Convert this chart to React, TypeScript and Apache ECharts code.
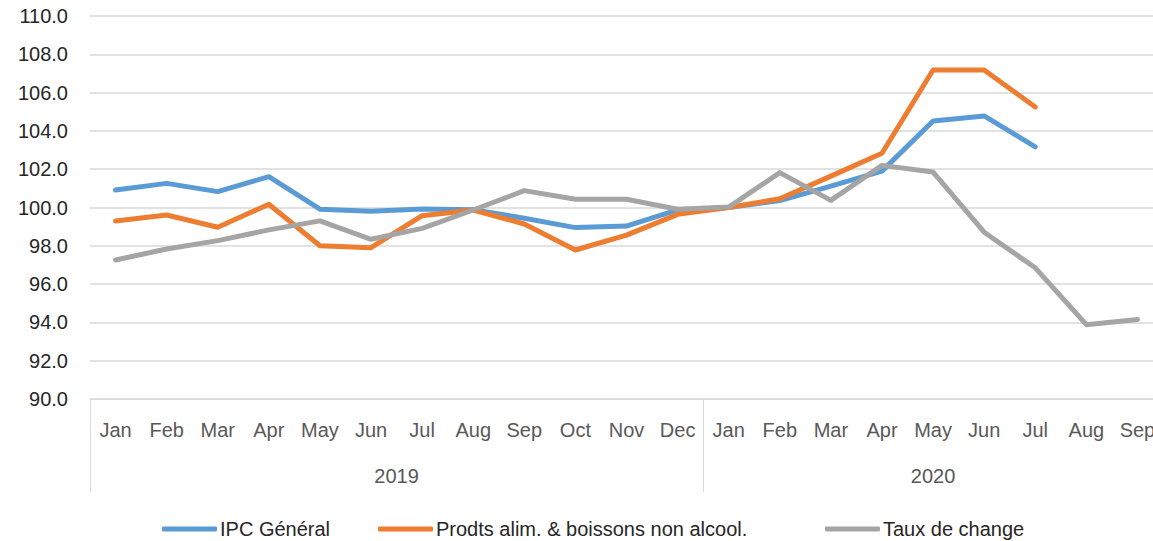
import React, { useEffect, useRef } from "react";
import * as echarts from "echarts";

const months = ["Jan","Feb","Mar","Apr","May","Jun","Jul","Aug","Sep","Oct","Nov","Dec","Jan","Feb","Mar","Apr","May","Jun","Jul","Aug","Sep"];
const years = ["2019", "2020"];
const yearCenters = [6, 16.5];
const yearBounds = [0, 12, 21];

const ipcGeneral = [100.91, 101.26, 100.83, 101.61, 99.91, 99.8, 99.92, 99.88, 99.44, 98.95, 99.03, 99.87, 100.0, 100.36, 101.12, 101.9, 104.52, 104.78, 103.17, null, null];
const prodtsAlim = [99.3, 99.61, 98.97, 100.17, 98.0, 97.9, 99.57, 99.87, 99.14, 97.78, 98.56, 99.64, 100.0, 100.46, 101.64, 102.83, 107.18, 107.18, 105.25, null, null];
const tauxChange = [97.26, 97.83, 98.27, 98.83, 99.3, 98.34, 98.91, 99.87, 100.88, 100.43, 100.43, 99.91, 100.02, 101.82, 100.37, 102.2, 101.85, 98.71, 96.85, 93.88, 94.15];

const seriesNames = ["IPC Général", "Prodts alim. & boissons non alcool.", "Taux de change"];
const colors = ["#5B9BD5", "#ED7D31", "#A5A5A5"];
const legendLefts = [157, 373, 820];

const FONT = "'Liberation Sans', Arial, sans-serif";

export default function App() {
  const ref = useRef<HTMLDivElement>(null);
  useEffect(() => {
    if (!ref.current) return;
    const chart = echarts.init(ref.current, null, { renderer: "svg" });
    const dataSets = [ipcGeneral, prodtsAlim, tauxChange];
    chart.setOption({
      animation: false,
      textStyle: { fontFamily: FONT },
      grid: { left: 90, top: 16, right: 0, height: 383, containLabel: false },
      legend: seriesNames.map((name, i) => ({
        left: legendLefts[i],
        top: 514,
        itemWidth: 55,
        itemHeight: 5,
        icon: "roundRect",
        textStyle: { fontFamily: FONT, fontSize: 20, color: "#262626", padding: [0, 0, 0, -2] },
        data: [name],
      })),
      xAxis: [
        {
          type: "category",
          data: months,
          boundaryGap: true,
          axisLine: { show: true, lineStyle: { color: "#D9D9D9", width: 1 } },
          axisTick: { show: false },
          axisLabel: { interval: 0, fontFamily: FONT, fontSize: 20, color: "#595959", margin: 21 },
        },
        {
          type: "value",
          min: 0,
          max: 21,
          position: "bottom",
          axisLine: { show: false },
          splitLine: { show: false },
          axisTick: {
            show: true,
            customValues: yearBounds,
            length: 93,
            lineStyle: { color: "#D9D9D9", width: 1 },
          },
          axisLabel: {
            show: true,
            customValues: yearCenters,
            margin: 67,
            fontFamily: FONT,
            fontSize: 20,
            color: "#595959",
            formatter: (v: number) => years[yearCenters.indexOf(v)] ?? "",
          },
        },
      ],
      yAxis: {
        type: "value",
        min: 90,
        max: 110,
        interval: 2,
        axisLine: { show: false },
        axisTick: { show: false },
        splitLine: { lineStyle: { color: "#D9D9D9", width: 1.5 } },
        axisLabel: {
          fontFamily: FONT,
          fontSize: 20,
          color: "#262626",
          margin: 22,
          formatter: (v: number) => v.toFixed(1),
        },
      },
      series: seriesNames.map((name, i) => ({
        name,
        type: "line",
        xAxisIndex: 0,
        data: dataSets[i],
        showSymbol: false,
        symbol: "none",
        connectNulls: false,
        itemStyle: { color: colors[i] },
        lineStyle: { color: colors[i], width: 5, cap: "round", join: "round" },
      })),
    });
    return () => chart.dispose();
  }, []);
  return (
    <div style={{ position: "fixed", left: 0, top: 0, width: 1153, height: 541, overflow: "hidden", background: "#fff" }}>
      <div ref={ref} style={{ width: 1163, height: 541 }} />
    </div>
  );
}
